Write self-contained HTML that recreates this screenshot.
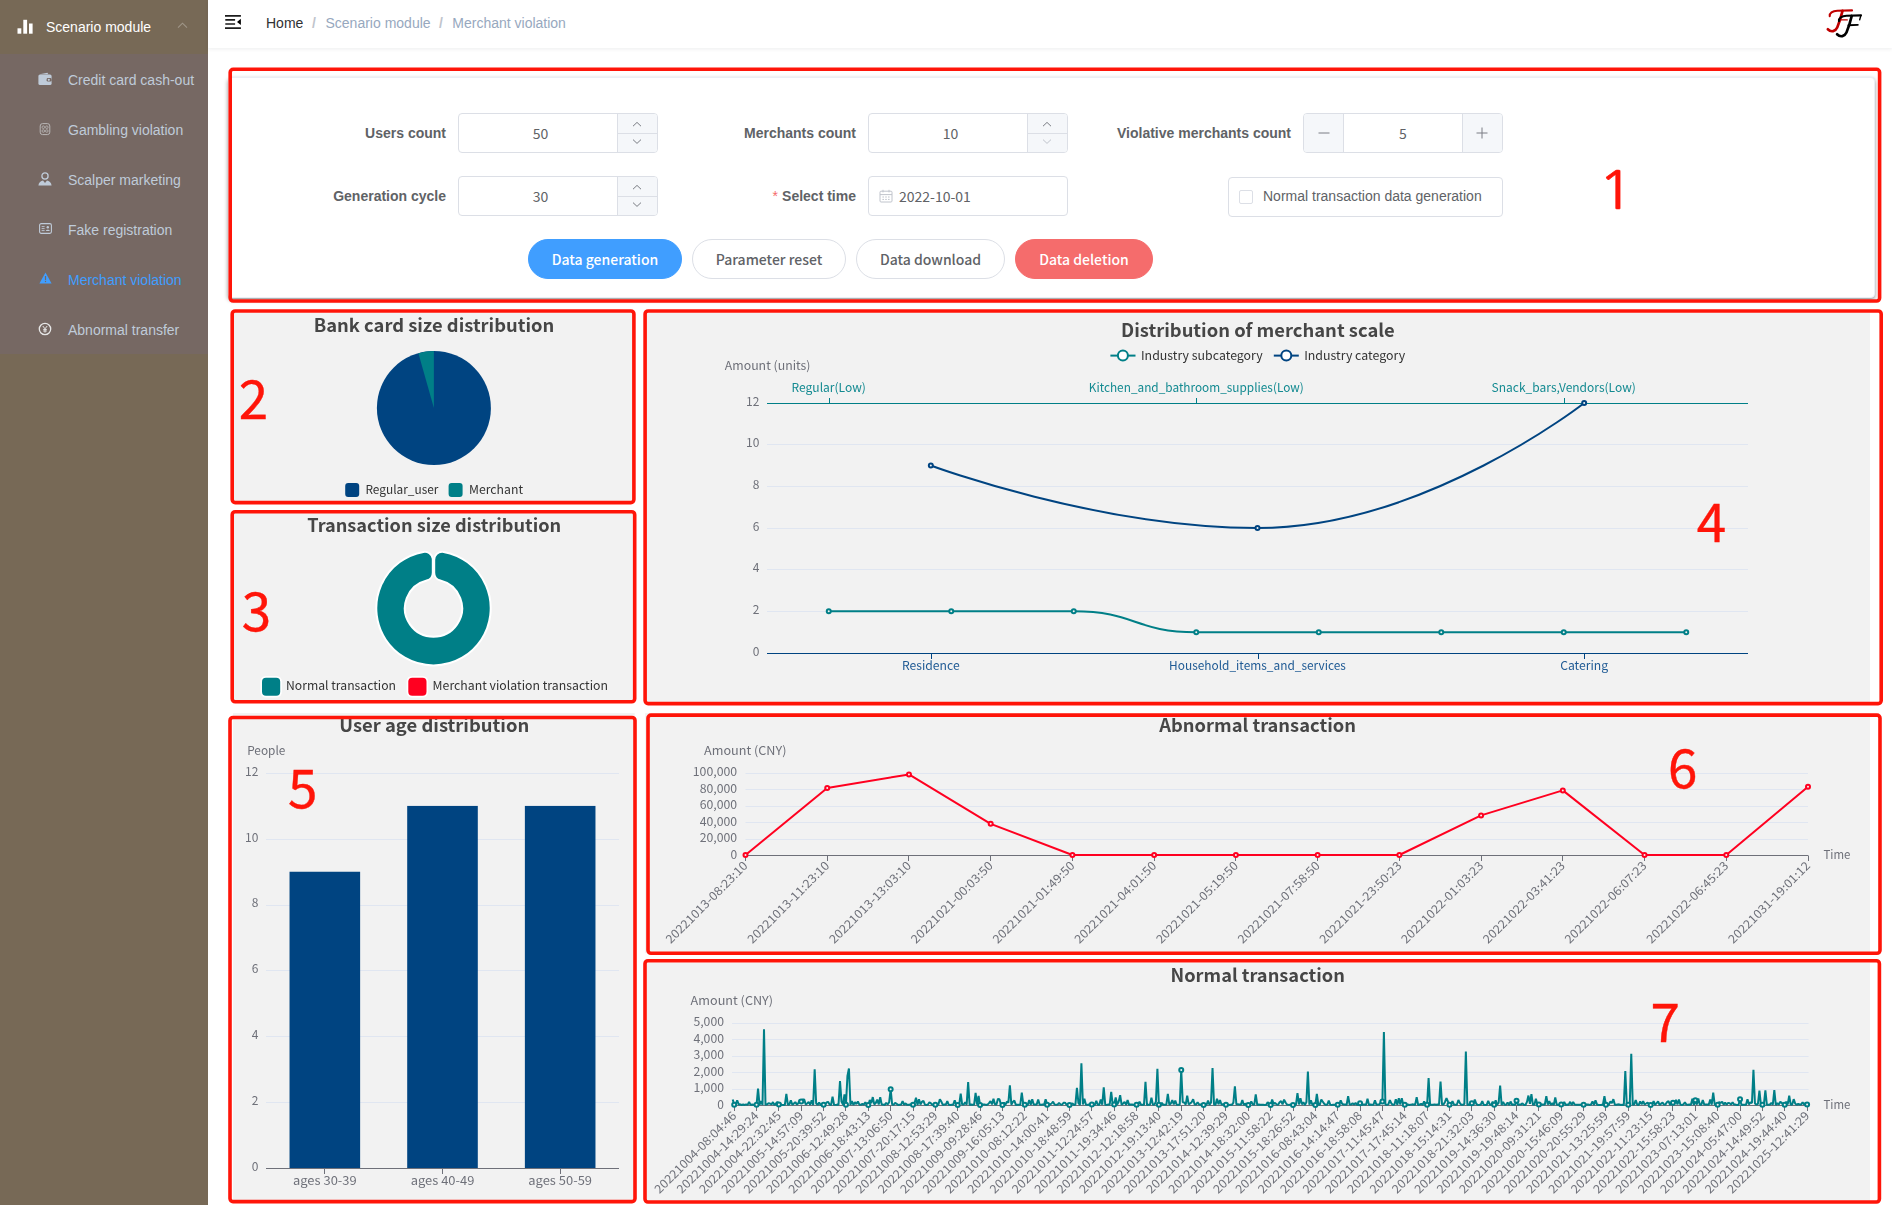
<!DOCTYPE html>
<html lang="en"><head><meta charset="utf-8"><title>Merchant violation</title>
<style>
*{box-sizing:border-box}
html,body{margin:0;padding:0}
body{width:1892px;height:1205px;position:relative;overflow:hidden;background:#fff;
 font-family:"Liberation Sans",Arial,sans-serif;font-size:14px;color:#606266;-webkit-font-smoothing:antialiased}
.abs{position:absolute}
#side{position:absolute;left:0;top:0;width:208px;height:1205px;background:#776956}
#side .top{position:absolute;left:0;top:0;width:208px;height:54px;color:#fff;font-size:14px;line-height:54px}
#side .top span{position:absolute;left:46px;top:0}
#side .sub{position:absolute;left:0;top:54px;width:208px;height:300px;background:#766863}
#side .it{position:absolute;left:0;width:208px;height:50px;line-height:50px;color:#bfcbd9;font-size:14px}
#side .it span{position:absolute;left:68px;top:1px;white-space:nowrap}
#side .it.act{color:#409eff}
#side svg{position:absolute}
#nav{position:absolute;left:208px;top:0;width:1684px;height:48px;background:#fff;box-shadow:0 1px 4px rgba(0,21,41,.08)}
#nav .bc{position:absolute;top:0;height:48px;line-height:47px;font-size:14px;white-space:nowrap}
#card{position:absolute;left:228px;top:77px;width:1646.6px;height:221px;background:#fff;border:1px solid #ebeef5;border-radius:4px;box-shadow:0 2px 4px rgba(0,0,0,.42)}
.lbl{position:absolute;height:40px;line-height:40px;font-size:14px;font-weight:700;color:#606266;text-align:right;white-space:nowrap}
.inp{position:absolute;height:40px;width:200px;border:1px solid #dcdfe6;border-radius:4px;background:#fff;overflow:hidden}
.inp .v{position:absolute;top:0;height:38px;line-height:39px;font-size:14px;color:#606266;text-align:center;font-family:"Noto Sans CJK SC","Liberation Sans",sans-serif}
.ctl{position:absolute;background:#f5f7fa;color:#606266}
.btn{position:absolute;top:239px;height:40px;border-radius:20px;border:1px solid #dcdfe6;background:#fff;color:#606266;
 font-family:"Noto Sans CJK SC","Liberation Sans",sans-serif;font-weight:500;font-size:14px;line-height:39px;text-align:center;white-space:nowrap}
.btn.pri{background:#409eff;border-color:#409eff;color:#fff}
.btn.dan{background:#f56c6c;border-color:#f56c6c;color:#fff}
svg text{white-space:pre}
</style></head>
<body>
<div id="side"><div class="top"><svg style="left:17px;top:19px" width="16" height="16" viewBox="0 0 16 16"><rect x="0.5" y="9.3" width="3.8" height="5.4" fill="#fff"/><rect x="6.3" y="0.8" width="3.8" height="13.9" fill="#fff"/><rect x="12" y="4.5" width="3.6" height="10.2" fill="#fff"/></svg><span>Scenario module</span><svg style="left:177px;top:22px" width="11" height="7" viewBox="0 0 11 7"><path d="M1 5.6 L5.5 1.2 L10 5.6" fill="none" stroke="#9f9688" stroke-width="1.1"/></svg></div><div class="sub"><div class="it" style="top:0px"><svg style="left:38px;top:18px" width="14" height="14" viewBox="0 0 14 14"><path d="M1.6 2.2 L9.5 0.8 L10.3 2.2 Z" fill="#bfcbd9"/><rect x="0.4" y="2.4" width="13.2" height="10.6" rx="1.6" fill="#bfcbd9"/><rect x="8.6" y="6" width="5" height="3.6" rx="1.4" fill="#766863"/><circle cx="10.8" cy="7.8" r="1.1" fill="#bfcbd9"/></svg><span>Credit card cash-out</span></div><div class="it" style="top:50px"><svg style="left:39px;top:18px" width="12" height="14" viewBox="0 0 12 14"><rect x="1.2" y="1.6" width="9.6" height="11" rx="2.4" fill="none" stroke="#b9b6b6" stroke-width="1"/><circle cx="4.3" cy="5.2" r="1.3" fill="none" stroke="#b9b6b6" stroke-width=".8"/><circle cx="7.8" cy="5.2" r="1.3" fill="none" stroke="#b9b6b6" stroke-width=".8"/><circle cx="4.3" cy="9" r="1.3" fill="none" stroke="#b9b6b6" stroke-width=".8"/><circle cx="7.8" cy="9" r="1.3" fill="none" stroke="#b9b6b6" stroke-width=".8"/></svg><span>Gambling violation</span></div><div class="it" style="top:100px"><svg style="left:38px;top:18px" width="14" height="14" viewBox="0 0 14 14"><circle cx="7" cy="4" r="3.1" fill="none" stroke="#bfcbd9" stroke-width="1.3"/><path d="M0.4 13.6 C0.6 10.6 3 9 5 8.6 L7 11 L9 8.6 C11 9 13.4 10.6 13.6 13.6 Z" fill="#bfcbd9"/></svg><span>Scalper marketing</span></div><div class="it" style="top:150px"><svg style="left:39px;top:19px" width="13" height="11" viewBox="0 0 13 11"><rect x="0.6" y="0.6" width="11.8" height="9.8" rx="1.6" fill="none" stroke="#bfcbd9" stroke-width="1.1"/><path d="M2.6 3.6 H5.6 M2.6 5.6 H5.6 M2.6 7.6 H5.6" stroke="#bfcbd9" stroke-width=".9"/><circle cx="8.8" cy="4.3" r="1.2" fill="#bfcbd9"/><path d="M6.8 8 C7 6.4 10.6 6.4 10.8 8 Z" fill="#bfcbd9"/></svg><span>Fake registration</span></div><div class="it act" style="top:200px"><svg style="left:39px;top:18px" width="13" height="12" viewBox="0 0 13 12"><path d="M6.5 0.6 L12.6 11.4 H0.4 Z" fill="#409eff"/><rect x="5.9" y="4" width="1.2" height="4" fill="#766863"/><rect x="5.9" y="8.8" width="1.2" height="1.3" fill="#766863"/></svg><span>Merchant violation</span></div><div class="it" style="top:250px"><svg style="left:38px;top:18px" width="14" height="14" viewBox="0 0 14 14"><circle cx="7" cy="7" r="5.7" fill="none" stroke="#e6e6e6" stroke-width="1.3"/><path d="M4.8 4 L7 6.8 L9.2 4 M7 6.8 V10.6 M5.2 7.4 H8.8 M5.2 9 H8.8" fill="none" stroke="#e6e6e6" stroke-width="1"/></svg><span>Abnormal transfer</span></div></div></div>
<div id="nav"><svg class="abs" style="left:16px;top:13px" width="18" height="18" viewBox="224 13 18 18"><path d="M225 15.85H240.9M225.3 19.9H235.1M225.3 24H235.1M225 28.15H240.9" stroke="#1c1c1c" stroke-width="1.7" fill="none"/><path d="M237 21.9L240.9 18.8V25Z" fill="#000"/></svg><span class="bc" style="left:58px;color:#303133">Home</span><span class="bc" style="left:104px;color:#c0c4cc;font-weight:700">/</span><span class="bc" style="left:117.5px;color:#97a8be">Scenario module</span><span class="bc" style="left:231px;color:#c0c4cc;font-weight:700">/</span><span class="bc" style="left:244.3px;color:#97a8be">Merchant violation</span><svg class="abs" style="left:1615.7px;top:7.9px" width="40.2" height="31.7" viewBox="600 150 760 600" fill="none" stroke-linecap="round" stroke-linejoin="round"><g stroke="#c00000"><path d="M708 305C700 250 760 203 850 202L1130 196" stroke-width="40"/><path d="M950 205C920 330 880 450 850 520C818 592 735 618 672 552" stroke-width="50"/><path d="M885 375H1040" stroke-width="26"/></g><g stroke="#000"><path d="M883 400C875 345 935 298 1025 297L1300 290" stroke-width="40"/><path d="M1298 292L1275 372" stroke-width="26"/><path d="M1125 300C1095 425 1055 545 1025 615C993 687 910 713 847 647" stroke-width="50"/><path d="M1062 478L1240 470" stroke-width="36"/></g></svg></div>
<div id="card"></div>
<div class="lbl" style="left:146px;width:300px;top:113px">Users count</div><div class="inp" style="left:458px;top:113px"><div class="v" style="left:15px;width:133px">50</div><div class="ctl" style="left:158px;top:0;width:40px;height:20px;border-left:1px solid #dcdfe6;border-bottom:1px solid #dcdfe6"></div><div class="ctl" style="left:158px;top:20px;width:40px;height:18px;border-left:1px solid #dcdfe6"></div><svg class="abs" style="left:172px;top:5px" width="12" height="28" viewBox="0 0 12 28"><path d="M2 7.2 L6 3.4 L10 7.2" fill="none" stroke="#7a7d84" stroke-width="1"/><path d="M2 20.6 L6 24.4 L10 20.6" fill="none" stroke="#7a7d84" stroke-width="1"/></svg></div><div class="lbl" style="left:556px;width:300px;top:113px">Merchants count</div><div class="inp" style="left:868px;top:113px"><div class="v" style="left:15px;width:133px">10</div><div class="ctl" style="left:158px;top:0;width:40px;height:20px;border-left:1px solid #dcdfe6;border-bottom:1px solid #dcdfe6"></div><div class="ctl" style="left:158px;top:20px;width:40px;height:18px;border-left:1px solid #dcdfe6"></div><svg class="abs" style="left:172px;top:5px" width="12" height="28" viewBox="0 0 12 28"><path d="M2 7.2 L6 3.4 L10 7.2" fill="none" stroke="#7a7d84" stroke-width="1"/><path d="M2 20.6 L6 24.4 L10 20.6" fill="none" stroke="#c0c4cc" stroke-width="1"/></svg></div><div class="lbl" style="left:991px;width:300px;top:113px">Violative merchants count</div><div class="inp" style="left:1303px;top:113px"><div class="ctl" style="left:0;top:0;width:40px;height:38px;border-right:1px solid #dcdfe6"></div><div class="ctl" style="left:158px;top:0;width:40px;height:38px;border-left:1px solid #dcdfe6"></div><div class="v" style="left:40px;width:118px">5</div><svg class="abs" style="left:13px;top:12px" width="14" height="14" viewBox="0 0 14 14"><path d="M1.5 7 H12.5" stroke="#7a7d84" stroke-width="1"/></svg><svg class="abs" style="left:171px;top:12px" width="14" height="14" viewBox="0 0 14 14"><path d="M1.5 7 H12.5 M7 1.5 V12.5" stroke="#7a7d84" stroke-width="1"/></svg></div><div class="lbl" style="left:146px;width:300px;top:176px">Generation cycle</div><div class="inp" style="left:458px;top:176px"><div class="v" style="left:15px;width:133px">30</div><div class="ctl" style="left:158px;top:0;width:40px;height:20px;border-left:1px solid #dcdfe6;border-bottom:1px solid #dcdfe6"></div><div class="ctl" style="left:158px;top:20px;width:40px;height:18px;border-left:1px solid #dcdfe6"></div><svg class="abs" style="left:172px;top:5px" width="12" height="28" viewBox="0 0 12 28"><path d="M2 7.2 L6 3.4 L10 7.2" fill="none" stroke="#7a7d84" stroke-width="1"/><path d="M2 20.6 L6 24.4 L10 20.6" fill="none" stroke="#7a7d84" stroke-width="1"/></svg></div><div class="lbl" style="left:556px;width:300px;top:176px"><span style="color:#f56c6c;font-weight:400;margin-right:4px;font-size:14px">*</span>Select time</div><div class="inp" style="left:868px;top:176px"><svg class="abs" style="left:10px;top:12px" width="14" height="14" viewBox="0 0 14 14"><rect x="1" y="2.2" width="12" height="10.8" rx="1" fill="none" stroke="#c0c4cc" stroke-width="1"/><path d="M1 5.6 H13 M4 0.8 V3.4 M10 0.8 V3.4 M3.4 8 H5 M6.2 8 H7.8 M9 8 H10.6 M3.4 10.4 H5 M6.2 10.4 H7.8 M9 10.4 H10.6" stroke="#c0c4cc" stroke-width="1" fill="none"/></svg><div class="v" style="left:30px;width:auto;text-align:left">2022-10-01</div></div><div class="abs" style="left:1228px;top:177px;width:275px;height:40px;border:1px solid #dcdfe6;border-radius:4px;background:#fff"><div class="abs" style="left:10px;top:12px;width:14px;height:14px;border:1px solid #dcdfe6;border-radius:2px;background:#fff"></div><div class="abs" style="left:34px;top:0;height:38px;line-height:37px;font-size:14px;color:#606266;white-space:nowrap">Normal transaction data generation</div></div><div class="btn pri" style="left:528px;width:154px">Data generation</div><div class="btn" style="left:692px;width:154px">Parameter reset</div><div class="btn" style="left:856px;width:149px">Data download</div><div class="btn dan" style="left:1015px;width:138px">Data deletion</div>
<svg class="abs" style="left:0;top:0;will-change:transform" width="1892" height="1205" viewBox="0 0 1892 1205" font-family="'Noto Sans CJK SC','Liberation Sans',sans-serif">
<rect x="233.1" y="313.1" width="401.6" height="190" fill="#f2f2f2"/><rect x="233.1" y="513.1" width="401.6" height="190" fill="#f2f2f2"/><rect x="645.2" y="313.1" width="1224.8" height="390" fill="#f2f2f2"/><rect x="233.1" y="713.1" width="401.6" height="490" fill="#f2f2f2"/><rect x="645.2" y="713.1" width="1224.8" height="240" fill="#f2f2f2"/><rect x="645.2" y="963.1" width="1224.8" height="240" fill="#f2f2f2"/>
<text x="434" y="332.2" font-size="18" fill="#464646" text-anchor="middle" font-weight="700" textLength="240.5" lengthAdjust="spacingAndGlyphs">Bank card size distribution</text><circle cx="433.9" cy="408" r="57" fill="#004481"/><path d="M433.9 408L418.38 353.15A57 57 0 0 1 433.9 351Z" fill="#007f87"/><rect x="345.2" y="483" width="14" height="14" rx="3" fill="#004481"/><text x="365.4" y="494.3" font-size="12" fill="#333" textLength="73" lengthAdjust="spacingAndGlyphs">Regular_user</text><rect x="448.6" y="483" width="14" height="14" rx="3" fill="#007f87"/><text x="469" y="494.3" font-size="12" fill="#333" textLength="54" lengthAdjust="spacingAndGlyphs">Merchant</text>
<text x="434.2" y="532.2" font-size="18" fill="#464646" text-anchor="middle" font-weight="700" textLength="254" lengthAdjust="spacingAndGlyphs">Transaction size distribution</text><path d="M442.2 559.78A49.2 49.2 0 1 1 424.8 559.78L424.8 572.65A36.6 36.6 0 1 0 442.2 572.65Z" fill="#fff" stroke="#fff" stroke-width="18" stroke-linejoin="round"/><path d="M442.2 559.78A49.2 49.2 0 1 1 424.8 559.78L424.8 572.65A36.6 36.6 0 1 0 442.2 572.65Z" fill="#007f87" stroke="#007f87" stroke-width="14" stroke-linejoin="round"/><rect x="260.3" y="676" width="21.6" height="21.6" rx="5.5" fill="#fff"/><rect x="262" y="677.8" width="18.2" height="18" rx="4" fill="#007f87"/><text x="286" y="690.3" font-size="12" fill="#333" textLength="110" lengthAdjust="spacingAndGlyphs">Normal transaction</text><rect x="406.6" y="676" width="21.6" height="21.6" rx="5.5" fill="#fff"/><rect x="408.3" y="677.8" width="18.2" height="18" rx="4" fill="#ff0020"/><text x="432.6" y="690.3" font-size="12" fill="#333" textLength="175.4" lengthAdjust="spacingAndGlyphs">Merchant violation transaction</text>
<text x="1257.9" y="337.2" font-size="18" fill="#464646" text-anchor="middle" font-weight="700" textLength="273.7" lengthAdjust="spacingAndGlyphs">Distribution of merchant scale</text><path d="M1110.4 355.6H1135.5" stroke="#007f87" stroke-width="2" fill="none"/><path d="M1273.8 355.6H1298.8" stroke="#004481" stroke-width="2" fill="none"/><circle cx="1122.9" cy="355.6" r="5" fill="#fff" stroke="#007f87" stroke-width="2"/><text x="1141" y="359.5" font-size="12" fill="#333" textLength="121.7" lengthAdjust="spacingAndGlyphs">Industry subcategory</text><circle cx="1286.3" cy="355.6" r="5" fill="#fff" stroke="#004481" stroke-width="2"/><text x="1304.2" y="359.5" font-size="12" fill="#333" textLength="101" lengthAdjust="spacingAndGlyphs">Industry category</text><text x="724.8" y="370.2" font-size="12" fill="#6E7079" textLength="85.7" lengthAdjust="spacingAndGlyphs">Amount (units)</text><text x="759.3" y="655.8" font-size="12" fill="#6E7079" text-anchor="end">0</text><text x="759.3" y="614.13" font-size="12" fill="#6E7079" text-anchor="end">2</text><text x="759.3" y="572.47" font-size="12" fill="#6E7079" text-anchor="end">4</text><text x="759.3" y="530.8" font-size="12" fill="#6E7079" text-anchor="end">6</text><text x="759.3" y="489.13" font-size="12" fill="#6E7079" text-anchor="end">8</text><text x="759.3" y="447.47" font-size="12" fill="#6E7079" text-anchor="end">10</text><text x="759.3" y="405.8" font-size="12" fill="#6E7079" text-anchor="end">12</text><text x="828.75" y="392.1" font-size="12" fill="#138a91" text-anchor="middle" textLength="74.4" lengthAdjust="spacingAndGlyphs">Regular(Low)</text><text x="1196.25" y="392.1" font-size="12" fill="#138a91" text-anchor="middle" textLength="215" lengthAdjust="spacingAndGlyphs">Kitchen_and_bathroom_supplies(Low)</text><text x="1563.75" y="392.1" font-size="12" fill="#138a91" text-anchor="middle" textLength="144.3" lengthAdjust="spacingAndGlyphs">Snack_bars,Vendors(Low)</text><text x="930.83" y="670.3" font-size="12" fill="#1f5a94" text-anchor="middle" textLength="57.8" lengthAdjust="spacingAndGlyphs">Residence</text><text x="1257.5" y="670.3" font-size="12" fill="#1f5a94" text-anchor="middle" textLength="176.8" lengthAdjust="spacingAndGlyphs">Household_items_and_services</text><text x="1584.17" y="670.3" font-size="12" fill="#1f5a94" text-anchor="middle" textLength="48" lengthAdjust="spacingAndGlyphs">Catering</text><path d="M767 611.5H1748M767 569.5H1748M767 528.5H1748M767 486.5H1748M767 444.5H1748" stroke="#e0e6f1" stroke-width="1" fill="none"/><path d="M767 403.5H1748M829.5 398V403.5M1196.5 398V403.5M1564.5 398V403.5" stroke="#007f87" stroke-width="1" fill="none"/><path d="M767 653.5H1748M931.5 653.5V659M1258.5 653.5V659M1584.5 653.5V659" stroke="#004481" stroke-width="1" fill="none"/><path d="M828.75 611.33C828.75 611.33 890 611.33 951.25 611.33C1012.5 611.33 1012.94 611.33 1073.75 611.33C1135.44 611.33 1134.56 632.17 1196.25 632.17C1257.06 632.17 1257.5 632.17 1318.75 632.17C1380 632.17 1380 632.17 1441.25 632.17C1502.5 632.17 1502.5 632.17 1563.75 632.17C1625 632.17 1686.25 632.17 1686.25 632.17" fill="none" stroke="#007f87" stroke-width="2" stroke-linejoin="bevel"/><path d="M930.83 465.5C930.83 465.5 1098.28 528 1257.5 528C1424.94 528 1584.17 403 1584.17 403" fill="none" stroke="#004481" stroke-width="2" stroke-linejoin="bevel"/><circle cx="828.75" cy="611.33" r="2" fill="#f2f2f2" stroke="#007f87" stroke-width="2"/><circle cx="951.25" cy="611.33" r="2" fill="#f2f2f2" stroke="#007f87" stroke-width="2"/><circle cx="1073.75" cy="611.33" r="2" fill="#f2f2f2" stroke="#007f87" stroke-width="2"/><circle cx="1196.25" cy="632.17" r="2" fill="#f2f2f2" stroke="#007f87" stroke-width="2"/><circle cx="1318.75" cy="632.17" r="2" fill="#f2f2f2" stroke="#007f87" stroke-width="2"/><circle cx="1441.25" cy="632.17" r="2" fill="#f2f2f2" stroke="#007f87" stroke-width="2"/><circle cx="1563.75" cy="632.17" r="2" fill="#f2f2f2" stroke="#007f87" stroke-width="2"/><circle cx="1686.25" cy="632.17" r="2" fill="#f2f2f2" stroke="#007f87" stroke-width="2"/><circle cx="930.83" cy="465.5" r="2" fill="#f2f2f2" stroke="#004481" stroke-width="2"/><circle cx="1257.5" cy="528" r="2" fill="#f2f2f2" stroke="#004481" stroke-width="2"/><circle cx="1584.17" cy="403" r="2" fill="#f2f2f2" stroke="#004481" stroke-width="2"/>
<text x="434.3" y="732" font-size="18" fill="#464646" text-anchor="middle" font-weight="700" textLength="190" lengthAdjust="spacingAndGlyphs">User age distribution</text><text x="247.2" y="755.3" font-size="12" fill="#6E7079" textLength="38.2" lengthAdjust="spacingAndGlyphs">People</text><text x="258.3" y="1170.8" font-size="12" fill="#6E7079" text-anchor="end">0</text><text x="258.3" y="1104.97" font-size="12" fill="#6E7079" text-anchor="end">2</text><text x="258.3" y="1039.13" font-size="12" fill="#6E7079" text-anchor="end">4</text><text x="258.3" y="973.3" font-size="12" fill="#6E7079" text-anchor="end">6</text><text x="258.3" y="907.47" font-size="12" fill="#6E7079" text-anchor="end">8</text><text x="258.3" y="841.63" font-size="12" fill="#6E7079" text-anchor="end">10</text><text x="258.3" y="775.8" font-size="12" fill="#6E7079" text-anchor="end">12</text><path d="M266 1102.5H619M266 1036.5H619M266 970.5H619M266 905.5H619M266 839.5H619M266 773.5H619" stroke="#e0e6f1" stroke-width="1" fill="none"/><rect x="289.53" y="871.75" width="70.6" height="296.25" fill="#004481"/><text x="324.83" y="1185" font-size="12" fill="#6E7079" text-anchor="middle" textLength="63.7" lengthAdjust="spacingAndGlyphs">ages 30-39</text><rect x="407.2" y="805.92" width="70.6" height="362.08" fill="#004481"/><text x="442.5" y="1185" font-size="12" fill="#6E7079" text-anchor="middle" textLength="63.7" lengthAdjust="spacingAndGlyphs">ages 40-49</text><rect x="524.87" y="805.92" width="70.6" height="362.08" fill="#004481"/><text x="560.17" y="1185" font-size="12" fill="#6E7079" text-anchor="middle" textLength="63.7" lengthAdjust="spacingAndGlyphs">ages 50-59</text><path d="M324.5 1168.5V1174M442.5 1168.5V1174M560.5 1168.5V1174M266 1168.5H619" stroke="#6E7079" stroke-width="1" fill="none"/>
<text x="1257.6" y="732.2" font-size="18" fill="#464646" text-anchor="middle" font-weight="700" textLength="196.7" lengthAdjust="spacingAndGlyphs">Abnormal transaction</text><text x="704" y="755.3" font-size="12" fill="#6E7079" textLength="82.5" lengthAdjust="spacingAndGlyphs">Amount (CNY)</text><text x="737.2" y="859.1" font-size="12" fill="#6E7079" text-anchor="end">0</text><text x="737.2" y="842" font-size="12" fill="#6E7079" text-anchor="end" textLength="37.5" lengthAdjust="spacingAndGlyphs">20,000</text><text x="737.2" y="825.6" font-size="12" fill="#6E7079" text-anchor="end" textLength="37.5" lengthAdjust="spacingAndGlyphs">40,000</text><text x="737.2" y="809.2" font-size="12" fill="#6E7079" text-anchor="end" textLength="37.5" lengthAdjust="spacingAndGlyphs">60,000</text><text x="737.2" y="792.8" font-size="12" fill="#6E7079" text-anchor="end" textLength="37.5" lengthAdjust="spacingAndGlyphs">80,000</text><text x="737.2" y="776.4" font-size="12" fill="#6E7079" text-anchor="end" textLength="44.5" lengthAdjust="spacingAndGlyphs">100,000</text><text x="745.5" y="867.8" font-size="12" fill="#6E7079" text-anchor="end" textLength="110.0" lengthAdjust="spacingAndGlyphs" transform="rotate(-45 745.5 863.5)">20221013-08:23:10</text><text x="827.23" y="867.8" font-size="12" fill="#6E7079" text-anchor="end" textLength="110.0" lengthAdjust="spacingAndGlyphs" transform="rotate(-45 827.23 863.5)">20221013-11:23:10</text><text x="908.96" y="867.8" font-size="12" fill="#6E7079" text-anchor="end" textLength="110.0" lengthAdjust="spacingAndGlyphs" transform="rotate(-45 908.96 863.5)">20221013-13:03:10</text><text x="990.69" y="867.8" font-size="12" fill="#6E7079" text-anchor="end" textLength="110.0" lengthAdjust="spacingAndGlyphs" transform="rotate(-45 990.69 863.5)">20221021-00:03:50</text><text x="1072.42" y="867.8" font-size="12" fill="#6E7079" text-anchor="end" textLength="110.0" lengthAdjust="spacingAndGlyphs" transform="rotate(-45 1072.42 863.5)">20221021-01:49:50</text><text x="1154.15" y="867.8" font-size="12" fill="#6E7079" text-anchor="end" textLength="110.0" lengthAdjust="spacingAndGlyphs" transform="rotate(-45 1154.15 863.5)">20221021-04:01:50</text><text x="1235.88" y="867.8" font-size="12" fill="#6E7079" text-anchor="end" textLength="110.0" lengthAdjust="spacingAndGlyphs" transform="rotate(-45 1235.88 863.5)">20221021-05:19:50</text><text x="1317.62" y="867.8" font-size="12" fill="#6E7079" text-anchor="end" textLength="110.0" lengthAdjust="spacingAndGlyphs" transform="rotate(-45 1317.62 863.5)">20221021-07:58:50</text><text x="1399.35" y="867.8" font-size="12" fill="#6E7079" text-anchor="end" textLength="110.0" lengthAdjust="spacingAndGlyphs" transform="rotate(-45 1399.35 863.5)">20221021-23:50:23</text><text x="1481.08" y="867.8" font-size="12" fill="#6E7079" text-anchor="end" textLength="110.0" lengthAdjust="spacingAndGlyphs" transform="rotate(-45 1481.08 863.5)">20221022-01:03:23</text><text x="1562.81" y="867.8" font-size="12" fill="#6E7079" text-anchor="end" textLength="110.0" lengthAdjust="spacingAndGlyphs" transform="rotate(-45 1562.81 863.5)">20221022-03:41:23</text><text x="1644.54" y="867.8" font-size="12" fill="#6E7079" text-anchor="end" textLength="110.0" lengthAdjust="spacingAndGlyphs" transform="rotate(-45 1644.54 863.5)">20221022-06:07:23</text><text x="1726.27" y="867.8" font-size="12" fill="#6E7079" text-anchor="end" textLength="110.0" lengthAdjust="spacingAndGlyphs" transform="rotate(-45 1726.27 863.5)">20221022-06:45:23</text><text x="1808" y="867.8" font-size="12" fill="#6E7079" text-anchor="end" textLength="110.0" lengthAdjust="spacingAndGlyphs" transform="rotate(-45 1808 863.5)">20221031-19:01:12</text><path d="M745.5 839.5H1808M745.5 822.5H1808M745.5 806.5H1808M745.5 789.5H1808M745.5 773.5H1808" stroke="#e0e6f1" stroke-width="1" fill="none"/><path d="M745.5 855.5H1808M745.5 855.5V861M827.5 855.5V861M908.5 855.5V861M990.5 855.5V861M1072.5 855.5V861M1154.5 855.5V861M1235.5 855.5V861M1317.5 855.5V861M1399.5 855.5V861M1481.5 855.5V861M1562.5 855.5V861M1644.5 855.5V861M1726.5 855.5V861M1808.5 855.5V861" stroke="#6E7079" stroke-width="1" fill="none"/><path d="M745.5 855L827.23 788.09L908.96 774.39L990.69 823.84L1072.42 855L1154.15 855L1235.88 855L1317.62 855L1399.35 855L1481.08 815.39L1562.81 790.38L1644.54 855L1726.27 855L1808 786.78" fill="none" stroke="#ff0020" stroke-width="2" stroke-linejoin="bevel"/><circle cx="745.5" cy="855" r="2" fill="#f2f2f2" stroke="#ff0020" stroke-width="2"/><circle cx="827.23" cy="788.09" r="2" fill="#f2f2f2" stroke="#ff0020" stroke-width="2"/><circle cx="908.96" cy="774.39" r="2" fill="#f2f2f2" stroke="#ff0020" stroke-width="2"/><circle cx="990.69" cy="823.84" r="2" fill="#f2f2f2" stroke="#ff0020" stroke-width="2"/><circle cx="1072.42" cy="855" r="2" fill="#f2f2f2" stroke="#ff0020" stroke-width="2"/><circle cx="1154.15" cy="855" r="2" fill="#f2f2f2" stroke="#ff0020" stroke-width="2"/><circle cx="1235.88" cy="855" r="2" fill="#f2f2f2" stroke="#ff0020" stroke-width="2"/><circle cx="1317.62" cy="855" r="2" fill="#f2f2f2" stroke="#ff0020" stroke-width="2"/><circle cx="1399.35" cy="855" r="2" fill="#f2f2f2" stroke="#ff0020" stroke-width="2"/><circle cx="1481.08" cy="815.39" r="2" fill="#f2f2f2" stroke="#ff0020" stroke-width="2"/><circle cx="1562.81" cy="790.38" r="2" fill="#f2f2f2" stroke="#ff0020" stroke-width="2"/><circle cx="1644.54" cy="855" r="2" fill="#f2f2f2" stroke="#ff0020" stroke-width="2"/><circle cx="1726.27" cy="855" r="2" fill="#f2f2f2" stroke="#ff0020" stroke-width="2"/><circle cx="1808" cy="786.78" r="2" fill="#f2f2f2" stroke="#ff0020" stroke-width="2"/><text x="1823.4" y="858.9" font-size="12" fill="#6E7079" textLength="27" lengthAdjust="spacingAndGlyphs">Time</text>
<text x="1257.7" y="982.1" font-size="18" fill="#464646" text-anchor="middle" font-weight="700" textLength="174.3" lengthAdjust="spacingAndGlyphs">Normal transaction</text><text x="690.6" y="1005.3" font-size="12" fill="#6E7079" textLength="82.5" lengthAdjust="spacingAndGlyphs">Amount (CNY)</text><text x="724" y="1109.1" font-size="12" fill="#6E7079" text-anchor="end">0</text><text x="724" y="1092" font-size="12" fill="#6E7079" text-anchor="end" textLength="30.6" lengthAdjust="spacingAndGlyphs">1,000</text><text x="724" y="1075.6" font-size="12" fill="#6E7079" text-anchor="end" textLength="30.6" lengthAdjust="spacingAndGlyphs">2,000</text><text x="724" y="1059.2" font-size="12" fill="#6E7079" text-anchor="end" textLength="30.6" lengthAdjust="spacingAndGlyphs">3,000</text><text x="724" y="1042.8" font-size="12" fill="#6E7079" text-anchor="end" textLength="30.6" lengthAdjust="spacingAndGlyphs">4,000</text><text x="724" y="1026.4" font-size="12" fill="#6E7079" text-anchor="end" textLength="30.6" lengthAdjust="spacingAndGlyphs">5,000</text><text x="734.2" y="1117.8" font-size="12" fill="#6E7079" text-anchor="end" textLength="110.0" lengthAdjust="spacingAndGlyphs" transform="rotate(-45 734.2 1113.5)">20221004-08:04:46</text><text x="756.55" y="1117.8" font-size="12" fill="#6E7079" text-anchor="end" textLength="110.0" lengthAdjust="spacingAndGlyphs" transform="rotate(-45 756.55 1113.5)">20221004-14:29:24</text><text x="778.9" y="1117.8" font-size="12" fill="#6E7079" text-anchor="end" textLength="110.0" lengthAdjust="spacingAndGlyphs" transform="rotate(-45 778.9 1113.5)">20221004-22:32:45</text><text x="801.26" y="1117.8" font-size="12" fill="#6E7079" text-anchor="end" textLength="110.0" lengthAdjust="spacingAndGlyphs" transform="rotate(-45 801.26 1113.5)">20221005-14:57:09</text><text x="823.61" y="1117.8" font-size="12" fill="#6E7079" text-anchor="end" textLength="110.0" lengthAdjust="spacingAndGlyphs" transform="rotate(-45 823.61 1113.5)">20221005-20:39:52</text><text x="845.96" y="1117.8" font-size="12" fill="#6E7079" text-anchor="end" textLength="110.0" lengthAdjust="spacingAndGlyphs" transform="rotate(-45 845.96 1113.5)">20221006-12:49:28</text><text x="868.31" y="1117.8" font-size="12" fill="#6E7079" text-anchor="end" textLength="110.0" lengthAdjust="spacingAndGlyphs" transform="rotate(-45 868.31 1113.5)">20221006-18:43:13</text><text x="890.66" y="1117.8" font-size="12" fill="#6E7079" text-anchor="end" textLength="110.0" lengthAdjust="spacingAndGlyphs" transform="rotate(-45 890.66 1113.5)">20221007-13:06:50</text><text x="913.02" y="1117.8" font-size="12" fill="#6E7079" text-anchor="end" textLength="110.0" lengthAdjust="spacingAndGlyphs" transform="rotate(-45 913.02 1113.5)">20221007-20:17:15</text><text x="935.37" y="1117.8" font-size="12" fill="#6E7079" text-anchor="end" textLength="110.0" lengthAdjust="spacingAndGlyphs" transform="rotate(-45 935.37 1113.5)">20221008-12:53:29</text><text x="957.72" y="1117.8" font-size="12" fill="#6E7079" text-anchor="end" textLength="110.0" lengthAdjust="spacingAndGlyphs" transform="rotate(-45 957.72 1113.5)">20221008-17:39:40</text><text x="980.07" y="1117.8" font-size="12" fill="#6E7079" text-anchor="end" textLength="110.0" lengthAdjust="spacingAndGlyphs" transform="rotate(-45 980.07 1113.5)">20221009-09:28:46</text><text x="1002.42" y="1117.8" font-size="12" fill="#6E7079" text-anchor="end" textLength="110.0" lengthAdjust="spacingAndGlyphs" transform="rotate(-45 1002.42 1113.5)">20221009-16:05:13</text><text x="1024.78" y="1117.8" font-size="12" fill="#6E7079" text-anchor="end" textLength="110.0" lengthAdjust="spacingAndGlyphs" transform="rotate(-45 1024.78 1113.5)">20221010-08:12:22</text><text x="1047.13" y="1117.8" font-size="12" fill="#6E7079" text-anchor="end" textLength="110.0" lengthAdjust="spacingAndGlyphs" transform="rotate(-45 1047.13 1113.5)">20221010-14:00:41</text><text x="1069.48" y="1117.8" font-size="12" fill="#6E7079" text-anchor="end" textLength="110.0" lengthAdjust="spacingAndGlyphs" transform="rotate(-45 1069.48 1113.5)">20221010-18:48:59</text><text x="1091.83" y="1117.8" font-size="12" fill="#6E7079" text-anchor="end" textLength="110.0" lengthAdjust="spacingAndGlyphs" transform="rotate(-45 1091.83 1113.5)">20221011-12:24:57</text><text x="1114.19" y="1117.8" font-size="12" fill="#6E7079" text-anchor="end" textLength="110.0" lengthAdjust="spacingAndGlyphs" transform="rotate(-45 1114.19 1113.5)">20221011-19:34:46</text><text x="1136.54" y="1117.8" font-size="12" fill="#6E7079" text-anchor="end" textLength="110.0" lengthAdjust="spacingAndGlyphs" transform="rotate(-45 1136.54 1113.5)">20221012-12:18:58</text><text x="1158.89" y="1117.8" font-size="12" fill="#6E7079" text-anchor="end" textLength="110.0" lengthAdjust="spacingAndGlyphs" transform="rotate(-45 1158.89 1113.5)">20221012-19:13:40</text><text x="1181.24" y="1117.8" font-size="12" fill="#6E7079" text-anchor="end" textLength="110.0" lengthAdjust="spacingAndGlyphs" transform="rotate(-45 1181.24 1113.5)">20221013-12:42:19</text><text x="1203.59" y="1117.8" font-size="12" fill="#6E7079" text-anchor="end" textLength="110.0" lengthAdjust="spacingAndGlyphs" transform="rotate(-45 1203.59 1113.5)">20221013-17:51:20</text><text x="1225.95" y="1117.8" font-size="12" fill="#6E7079" text-anchor="end" textLength="110.0" lengthAdjust="spacingAndGlyphs" transform="rotate(-45 1225.95 1113.5)">20221014-12:39:29</text><text x="1248.3" y="1117.8" font-size="12" fill="#6E7079" text-anchor="end" textLength="110.0" lengthAdjust="spacingAndGlyphs" transform="rotate(-45 1248.3 1113.5)">20221014-18:32:00</text><text x="1270.65" y="1117.8" font-size="12" fill="#6E7079" text-anchor="end" textLength="110.0" lengthAdjust="spacingAndGlyphs" transform="rotate(-45 1270.65 1113.5)">20221015-11:58:22</text><text x="1293" y="1117.8" font-size="12" fill="#6E7079" text-anchor="end" textLength="110.0" lengthAdjust="spacingAndGlyphs" transform="rotate(-45 1293 1113.5)">20221015-18:26:52</text><text x="1315.35" y="1117.8" font-size="12" fill="#6E7079" text-anchor="end" textLength="110.0" lengthAdjust="spacingAndGlyphs" transform="rotate(-45 1315.35 1113.5)">20221016-08:43:04</text><text x="1337.71" y="1117.8" font-size="12" fill="#6E7079" text-anchor="end" textLength="110.0" lengthAdjust="spacingAndGlyphs" transform="rotate(-45 1337.71 1113.5)">20221016-14:14:47</text><text x="1360.06" y="1117.8" font-size="12" fill="#6E7079" text-anchor="end" textLength="110.0" lengthAdjust="spacingAndGlyphs" transform="rotate(-45 1360.06 1113.5)">20221016-18:58:08</text><text x="1382.41" y="1117.8" font-size="12" fill="#6E7079" text-anchor="end" textLength="110.0" lengthAdjust="spacingAndGlyphs" transform="rotate(-45 1382.41 1113.5)">20221017-11:45:47</text><text x="1404.76" y="1117.8" font-size="12" fill="#6E7079" text-anchor="end" textLength="110.0" lengthAdjust="spacingAndGlyphs" transform="rotate(-45 1404.76 1113.5)">20221017-17:45:14</text><text x="1427.11" y="1117.8" font-size="12" fill="#6E7079" text-anchor="end" textLength="110.0" lengthAdjust="spacingAndGlyphs" transform="rotate(-45 1427.11 1113.5)">20221018-11:18:07</text><text x="1449.47" y="1117.8" font-size="12" fill="#6E7079" text-anchor="end" textLength="110.0" lengthAdjust="spacingAndGlyphs" transform="rotate(-45 1449.47 1113.5)">20221018-15:14:31</text><text x="1471.82" y="1117.8" font-size="12" fill="#6E7079" text-anchor="end" textLength="110.0" lengthAdjust="spacingAndGlyphs" transform="rotate(-45 1471.82 1113.5)">20221018-21:32:03</text><text x="1494.17" y="1117.8" font-size="12" fill="#6E7079" text-anchor="end" textLength="110.0" lengthAdjust="spacingAndGlyphs" transform="rotate(-45 1494.17 1113.5)">20221019-14:36:30</text><text x="1516.52" y="1117.8" font-size="12" fill="#6E7079" text-anchor="end" textLength="110.0" lengthAdjust="spacingAndGlyphs" transform="rotate(-45 1516.52 1113.5)">20221019-19:48:14</text><text x="1538.88" y="1117.8" font-size="12" fill="#6E7079" text-anchor="end" textLength="110.0" lengthAdjust="spacingAndGlyphs" transform="rotate(-45 1538.88 1113.5)">20221020-09:31:21</text><text x="1561.23" y="1117.8" font-size="12" fill="#6E7079" text-anchor="end" textLength="110.0" lengthAdjust="spacingAndGlyphs" transform="rotate(-45 1561.23 1113.5)">20221020-15:46:09</text><text x="1583.58" y="1117.8" font-size="12" fill="#6E7079" text-anchor="end" textLength="110.0" lengthAdjust="spacingAndGlyphs" transform="rotate(-45 1583.58 1113.5)">20221020-20:55:29</text><text x="1605.93" y="1117.8" font-size="12" fill="#6E7079" text-anchor="end" textLength="110.0" lengthAdjust="spacingAndGlyphs" transform="rotate(-45 1605.93 1113.5)">20221021-13:25:59</text><text x="1628.28" y="1117.8" font-size="12" fill="#6E7079" text-anchor="end" textLength="110.0" lengthAdjust="spacingAndGlyphs" transform="rotate(-45 1628.28 1113.5)">20221021-19:57:59</text><text x="1650.64" y="1117.8" font-size="12" fill="#6E7079" text-anchor="end" textLength="110.0" lengthAdjust="spacingAndGlyphs" transform="rotate(-45 1650.64 1113.5)">20221022-11:23:15</text><text x="1672.99" y="1117.8" font-size="12" fill="#6E7079" text-anchor="end" textLength="110.0" lengthAdjust="spacingAndGlyphs" transform="rotate(-45 1672.99 1113.5)">20221022-15:58:23</text><text x="1695.34" y="1117.8" font-size="12" fill="#6E7079" text-anchor="end" textLength="110.0" lengthAdjust="spacingAndGlyphs" transform="rotate(-45 1695.34 1113.5)">20221023-07:13:01</text><text x="1717.69" y="1117.8" font-size="12" fill="#6E7079" text-anchor="end" textLength="110.0" lengthAdjust="spacingAndGlyphs" transform="rotate(-45 1717.69 1113.5)">20221023-15:08:40</text><text x="1740.04" y="1117.8" font-size="12" fill="#6E7079" text-anchor="end" textLength="110.0" lengthAdjust="spacingAndGlyphs" transform="rotate(-45 1740.04 1113.5)">20221024-05:47:00</text><text x="1762.4" y="1117.8" font-size="12" fill="#6E7079" text-anchor="end" textLength="110.0" lengthAdjust="spacingAndGlyphs" transform="rotate(-45 1762.4 1113.5)">20221024-14:49:52</text><text x="1784.75" y="1117.8" font-size="12" fill="#6E7079" text-anchor="end" textLength="110.0" lengthAdjust="spacingAndGlyphs" transform="rotate(-45 1784.75 1113.5)">20221024-19:44:40</text><text x="1807.1" y="1117.8" font-size="12" fill="#6E7079" text-anchor="end" textLength="110.0" lengthAdjust="spacingAndGlyphs" transform="rotate(-45 1807.1 1113.5)">20221025-12:41:29</text><path d="M732 1089.5H1808.6M732 1072.5H1808.6M732 1056.5H1808.6M732 1039.5H1808.6M732 1023.5H1808.6" stroke="#e0e6f1" stroke-width="1" fill="none"/><path d="M732 1105.5H1808.6M734.5 1105.5V1111M756.5 1105.5V1111M778.5 1105.5V1111M801.5 1105.5V1111M823.5 1105.5V1111M845.5 1105.5V1111M868.5 1105.5V1111M890.5 1105.5V1111M913.5 1105.5V1111M935.5 1105.5V1111M957.5 1105.5V1111M980.5 1105.5V1111M1002.5 1105.5V1111M1024.5 1105.5V1111M1047.5 1105.5V1111M1069.5 1105.5V1111M1091.5 1105.5V1111M1114.5 1105.5V1111M1136.5 1105.5V1111M1158.5 1105.5V1111M1181.5 1105.5V1111M1203.5 1105.5V1111M1225.5 1105.5V1111M1248.5 1105.5V1111M1270.5 1105.5V1111M1293.5 1105.5V1111M1315.5 1105.5V1111M1337.5 1105.5V1111M1360.5 1105.5V1111M1382.5 1105.5V1111M1404.5 1105.5V1111M1427.5 1105.5V1111M1449.5 1105.5V1111M1471.5 1105.5V1111M1494.5 1105.5V1111M1516.5 1105.5V1111M1538.5 1105.5V1111M1561.5 1105.5V1111M1583.5 1105.5V1111M1605.5 1105.5V1111M1628.5 1105.5V1111M1650.5 1105.5V1111M1672.5 1105.5V1111M1695.5 1105.5V1111M1717.5 1105.5V1111M1740.5 1105.5V1111M1762.5 1105.5V1111M1784.5 1105.5V1111M1807.5 1105.5V1111" stroke="#6E7079" stroke-width="1" fill="none"/><path d="M732.71 1099.6L734.2 1104.81L735.69 1104.01L737.18 1100.34L738.67 1104.4L740.16 1104.36L741.65 1104.95L743.14 1104.49L744.63 1104.94L746.12 1104.37L747.61 1104.92L749.1 1101.82L750.59 1104.93L752.08 1104.48L753.57 1104.63L755.06 1104.87L756.55 1104.77L758.04 1088.5L759.53 1104.91L761.02 1101.08L762.51 1104.92L764 1029.3L765.49 1104.86L766.98 1104.36L768.47 1103.27L769.96 1103.5L771.45 1104.44L772.94 1102.11L774.43 1104.93L775.92 1103.49L777.41 1101.82L778.9 1104.62L780.39 1104.49L781.88 1104.81L783.37 1104.94L784.86 1104.84L786.35 1093.97L787.85 1104.76L789.34 1104.37L790.83 1100.34L792.32 1104.62L793.81 1103.57L795.3 1102.11L796.79 1104.4L798.28 1103.4L799.77 1099.6L801.26 1101.56L802.75 1099.6L804.24 1099.6L805.73 1104.51L807.22 1103.53L808.71 1101.85L810.2 1104.72L811.69 1100.34L813.18 1104.97L814.67 1069.26L816.16 1103.43L817.65 1104.83L819.14 1102.55L820.63 1104.88L822.12 1104.95L823.61 1104.79L825.1 1104.63L826.59 1102.5L828.08 1101.82L829.57 1104.4L831.06 1104.99L832.55 1096.64L834.04 1104.71L835.53 1104.88L837.02 1104.62L838.51 1104.76L840 1081.1L841.49 1101.6L842.98 1104.55L844.47 1094.42L845.96 1104.76L847.45 1075.92L848.94 1068.52L850.43 1104.91L851.92 1101.08L853.41 1104.99L854.9 1102.29L856.39 1103.96L857.88 1101.52L859.37 1104.68L860.86 1104.79L862.35 1103.83L863.84 1104.52L865.33 1102.2L866.82 1104.48L868.31 1104.92L869.8 1100.04L871.29 1103.15L872.78 1097.08L874.27 1104.41L875.76 1102.99L877.25 1099.6L878.74 1104.43L880.23 1097.08L881.72 1104.59L883.21 1104.62L884.7 1104.95L886.19 1102.85L887.68 1104.35L889.17 1102.22L890.66 1089.24L892.15 1104.52L893.64 1104.71L895.13 1102.85L896.63 1103.81L898.12 1104.98L899.61 1104.68L901.1 1104.54L902.59 1101.08L904.08 1104.6L905.57 1103.39L907.06 1104.8L908.55 1104.87L910.04 1104.41L911.53 1104.71L913.02 1104.74L914.51 1103.21L916 1097.67L917.49 1104.87L918.98 1099.3L920.47 1104.47L921.96 1101.85L923.45 1100.78L924.94 1104.62L926.43 1104.91L927.92 1104.45L929.41 1102.27L930.9 1103.34L932.39 1104.7L933.88 1104.86L935.37 1104.67L936.86 1104.59L938.35 1104.79L939.84 1099.15L941.33 1101.6L942.82 1104.95L944.31 1104.43L945.8 1104.54L947.29 1101.08L948.78 1104.8L950.27 1104.99L951.76 1104.7L953.25 1104.46L954.74 1100.34L956.23 1104.91L957.72 1104.96L959.21 1104.59L960.7 1093.68L962.19 1104.59L963.68 1104.47L965.17 1102.33L966.66 1104.69L968.15 1082.13L969.64 1104.99L971.13 1104.53L972.62 1104.82L974.11 1104.54L975.6 1092.94L977.09 1104.6L978.58 1095.9L980.07 1104.88L981.56 1104.74L983.05 1104.41L984.54 1104.39L986.03 1104.91L987.52 1104.59L989.01 1103.09L990.5 1101.08L991.99 1104.42L993.48 1098.86L994.97 1104.38L996.46 1104.57L997.95 1098.86L999.44 1099.15L1000.93 1104.53L1002.43 1104.96L1003.92 1102.44L1005.41 1104.86L1006.9 1101.6L1008.39 1102.7L1009.88 1085.24L1011.37 1104.79L1012.86 1101.91L1014.35 1100.63L1015.84 1104.95L1017.33 1104.64L1018.82 1104.68L1020.31 1104.47L1021.8 1092.64L1023.29 1104.48L1024.78 1104.67L1026.27 1104.78L1027.76 1104.91L1029.25 1100.04L1030.74 1104.66L1032.23 1099.15L1033.72 1104.45L1035.21 1104.38L1036.7 1104.38L1038.19 1099.6L1039.68 1104.85L1041.17 1104.81L1042.66 1104.58L1044.15 1104.45L1045.64 1099.15L1047.13 1104.72L1048.62 1104.8L1050.11 1104.45L1051.6 1103.5L1053.09 1101.63L1054.58 1104.62L1056.07 1104.65L1057.56 1104.6L1059.05 1102.85L1060.54 1104.36L1062.03 1104.74L1063.52 1102.85L1065.01 1102.63L1066.5 1104.55L1067.99 1104.65L1069.48 1104.98L1070.97 1104.37L1072.46 1103.35L1073.95 1104.92L1075.44 1104.46L1076.93 1087.76L1078.42 1102.84L1079.91 1104.87L1081.4 1063.34L1082.89 1104.39L1084.38 1098.86L1085.87 1104.49L1087.36 1104.87L1088.85 1104.55L1090.34 1104.77L1091.83 1104.6L1093.32 1104.93L1094.81 1104.92L1096.3 1100.78L1097.79 1104.84L1099.28 1104.65L1100.77 1099.6L1102.26 1104.75L1103.75 1087.31L1105.24 1104.65L1106.73 1104.87L1108.22 1104.58L1109.72 1104.44L1111.21 1091.75L1112.7 1104.44L1114.19 1104.6L1115.68 1097.38L1117.17 1104.51L1118.66 1101.8L1120.15 1095.16L1121.64 1104.79L1123.13 1103.48L1124.62 1101.83L1126.11 1104.84L1127.6 1100.04L1129.09 1104.83L1130.58 1104.45L1132.07 1104.48L1133.56 1104.74L1135.05 1104.99L1136.54 1104.73L1138.03 1104.55L1139.52 1101.63L1141.01 1104.67L1142.5 1104.67L1143.99 1104.88L1145.48 1081.84L1146.97 1104.93L1148.46 1104.64L1149.95 1104.63L1151.44 1097.67L1152.93 1104.88L1154.42 1104.45L1155.91 1101.74L1157.4 1068.82L1158.89 1104.75L1160.38 1104.96L1161.87 1102.88L1163.36 1104.79L1164.85 1104.66L1166.34 1104.61L1167.83 1093.97L1169.32 1104.54L1170.81 1103.57L1172.3 1100.04L1173.79 1104.51L1175.28 1100.63L1176.77 1104.87L1178.26 1104.66L1179.75 1104.41L1181.24 1070L1182.73 1102.28L1184.22 1102.47L1185.71 1104.61L1187.2 1095.6L1188.69 1104.36L1190.18 1103.38L1191.67 1102.18L1193.16 1099.15L1194.65 1104.47L1196.14 1104.41L1197.63 1102.31L1199.12 1104.5L1200.61 1104.53L1202.1 1104.78L1203.59 1104.99L1205.08 1104.99L1206.57 1104.58L1208.06 1100.63L1209.55 1104.85L1211.04 1102.38L1212.53 1068.08L1214.02 1104.57L1215.51 1104.65L1217.01 1098.86L1218.5 1104.34L1219.99 1100.04L1221.48 1104.54L1222.97 1104.36L1224.46 1104.6L1225.95 1104.78L1227.44 1104.83L1228.93 1104.97L1230.42 1104.75L1231.91 1104.84L1233.4 1102.66L1234.89 1086.28L1236.38 1104.37L1237.87 1104.35L1239.36 1104.47L1240.85 1104.61L1242.34 1100.04L1243.83 1104.97L1245.32 1103.62L1246.81 1104.89L1248.3 1104.98L1249.79 1104.6L1251.28 1101.52L1252.77 1104.38L1254.26 1104.65L1255.75 1094.42L1257.24 1104.76L1258.73 1104.57L1260.22 1104.81L1261.71 1104.81L1263.2 1104.84L1264.69 1104.9L1266.18 1104.74L1267.67 1102.18L1269.16 1104.35L1270.65 1104.92L1272.14 1099.6L1273.63 1103.84L1275.12 1102.96L1276.61 1104.36L1278.1 1104.66L1279.59 1102.24L1281.08 1101.08L1282.57 1104.36L1284.06 1099.6L1285.55 1102.53L1287.04 1104.59L1288.53 1104.87L1290.02 1104.65L1291.51 1104.71L1293 1104.9L1294.49 1104.7L1295.98 1104.62L1297.47 1093.23L1298.96 1104.49L1300.45 1098.12L1301.94 1104.35L1303.43 1102.21L1304.92 1104.93L1306.41 1102.09L1307.9 1071.48L1309.39 1104.76L1310.88 1100.34L1312.37 1104.55L1313.86 1104.61L1315.35 1104.99L1316.84 1093.97L1318.33 1104.51L1319.82 1104.84L1321.31 1099.6L1322.8 1101.76L1324.3 1103.92L1325.79 1104.82L1327.28 1104.59L1328.77 1100.63L1330.26 1104.64L1331.75 1104.94L1333.24 1104.64L1334.73 1104.76L1336.22 1104.86L1337.71 1104.81L1339.2 1104.51L1340.69 1100.34L1342.18 1103.83L1343.67 1104.47L1345.16 1104.5L1346.65 1104.72L1348.14 1096.19L1349.63 1104.47L1351.12 1104.57L1352.61 1103.22L1354.1 1104.51L1355.59 1102.96L1357.08 1104.94L1358.57 1103.82L1360.06 1103.36L1361.55 1104.63L1363.04 1104.55L1364.53 1104.49L1366.02 1104.86L1367.51 1098.86L1369 1104.95L1370.49 1104.52L1371.98 1104.81L1373.47 1104.77L1374.96 1100.34L1376.45 1104.76L1377.94 1104.53L1379.43 1104.4L1380.92 1101.77L1382.41 1101.52L1383.9 1031.97L1385.39 1104.47L1386.88 1104.79L1388.37 1104.39L1389.86 1100.04L1391.35 1103.41L1392.84 1104.76L1394.33 1104.74L1395.82 1099.15L1397.31 1104.87L1398.8 1098.12L1400.29 1104.48L1401.78 1098.12L1403.27 1104.45L1404.76 1104.79L1406.25 1104.88L1407.74 1104.42L1409.23 1104.99L1410.72 1104.64L1412.21 1104.37L1413.7 1104.47L1415.19 1104.64L1416.68 1097.08L1418.17 1104.94L1419.66 1104.52L1421.15 1103.81L1422.64 1104.91L1424.13 1101.52L1425.62 1104.57L1427.11 1104.74L1428.6 1078.14L1430.09 1104.86L1431.59 1104.66L1433.08 1104.74L1434.57 1104.36L1436.06 1104.68L1437.55 1104.53L1439.04 1104.4L1440.53 1081.54L1442.02 1104.46L1443.51 1104.44L1445 1101.96L1446.49 1098.12L1447.98 1101.66L1449.47 1104.8L1450.96 1104.66L1452.45 1101.08L1453.94 1104.47L1455.43 1104.72L1456.92 1104.51L1458.41 1100.04L1459.9 1103.09L1461.39 1104.87L1462.88 1104.81L1464.37 1103.87L1465.86 1051.5L1467.35 1104.92L1468.84 1104.49L1470.33 1104.96L1471.82 1103.36L1473.31 1104.62L1474.8 1099.6L1476.29 1103.93L1477.78 1104.88L1479.27 1104.85L1480.76 1104.61L1482.25 1101.08L1483.74 1104.88L1485.23 1104.89L1486.72 1104.8L1488.21 1100.78L1489.7 1104.46L1491.19 1104.83L1492.68 1101.77L1494.17 1104.81L1495.66 1100.34L1497.15 1104.64L1498.64 1102.83L1500.13 1085.54L1501.62 1104.97L1503.11 1102.04L1504.6 1104.65L1506.09 1104.82L1507.58 1102.4L1509.07 1104.99L1510.56 1101.52L1512.05 1104.76L1513.54 1104.53L1515.03 1104.9L1516.52 1100.79L1518.01 1104.79L1519.5 1104.43L1520.99 1104.58L1522.48 1103.36L1523.97 1104.9L1525.46 1105L1526.95 1101.93L1528.44 1095.6L1529.93 1103.81L1531.42 1094.12L1532.91 1104.53L1534.4 1104.69L1535.89 1098.86L1537.38 1104.37L1538.88 1104.59L1540.37 1104.44L1541.86 1104.48L1543.35 1104.4L1544.84 1104.46L1546.33 1096.19L1547.82 1104.64L1549.31 1101.08L1550.8 1104.9L1552.29 1103.25L1553.78 1104.95L1555.27 1097.38L1556.76 1104.69L1558.25 1104.76L1559.74 1104.93L1561.23 1104.59L1562.72 1104.7L1564.21 1101.97L1565.7 1104.99L1567.19 1104.53L1568.68 1104.63L1570.17 1101.82L1571.66 1104.99L1573.15 1102.05L1574.64 1104.6L1576.13 1104.75L1577.62 1104.8L1579.11 1104.74L1580.6 1104.83L1582.09 1104.52L1583.58 1104.66L1585.07 1104.38L1586.56 1104.53L1588.05 1104.46L1589.54 1104.91L1591.03 1104.56L1592.52 1101.52L1594.01 1104.88L1595.5 1100.34L1596.99 1104.45L1598.48 1104.94L1599.97 1104.9L1601.46 1104.73L1602.95 1104.4L1604.44 1096.19L1605.93 1104.71L1607.42 1104.66L1608.91 1104.5L1610.4 1101.52L1611.89 1103.07L1613.38 1099.15L1614.87 1104.73L1616.36 1104.74L1617.85 1104.36L1619.34 1104.57L1620.83 1104.99L1622.32 1104.78L1623.81 1104.93L1625.3 1071.04L1626.79 1104.67L1628.28 1104.87L1629.77 1104.46L1631.26 1053.72L1632.75 1104.9L1634.24 1104.41L1635.73 1100.04L1637.22 1104.77L1638.71 1104.91L1640.2 1101.52L1641.69 1104.35L1643.18 1101.08L1644.67 1104.53L1646.16 1103.53L1647.66 1102.47L1649.15 1104.95L1650.64 1104.91L1652.13 1104.62L1653.62 1101.08L1655.11 1104.78L1656.6 1103.13L1658.09 1101.52L1659.58 1104.92L1661.07 1103.68L1662.56 1102.68L1664.05 1104.63L1665.54 1104.4L1667.03 1102L1668.52 1101.08L1670.01 1104.92L1671.5 1103.31L1672.99 1102.87L1674.48 1103.42L1675.97 1099.89L1677.46 1104.46L1678.95 1099.6L1680.44 1104.64L1681.93 1104.98L1683.42 1104.35L1684.91 1102.4L1686.4 1104.56L1687.89 1104.75L1689.38 1104.47L1690.87 1104.87L1692.36 1098.86L1693.85 1104.91L1695.34 1100.34L1696.83 1104.63L1698.32 1098.56L1699.81 1104.66L1701.3 1104.63L1702.79 1100.04L1704.28 1104.58L1705.77 1104.56L1707.26 1104.37L1708.75 1104.69L1710.24 1099.6L1711.73 1104.59L1713.22 1092.64L1714.71 1104.5L1716.2 1104.68L1717.69 1104.69L1719.18 1101.95L1720.67 1103.01L1722.16 1101.82L1723.65 1104.63L1725.14 1102.72L1726.63 1104.72L1728.12 1102.85L1729.61 1103.23L1731.1 1104.52L1732.59 1102.22L1734.08 1104.51L1735.57 1104.61L1737.06 1104.92L1738.55 1104.67L1740.04 1099.16L1741.53 1104.97L1743.02 1104.65L1744.51 1104.8L1746 1104.85L1747.49 1099.15L1748.98 1104.4L1750.47 1102.38L1751.96 1102.98L1753.45 1069.7L1754.95 1103.47L1756.44 1104.63L1757.93 1103.77L1759.42 1090.72L1760.91 1104.92L1762.4 1104.65L1763.89 1104.38L1765.38 1090.27L1766.87 1104.84L1768.36 1104.79L1769.85 1104.41L1771.34 1103.04L1772.83 1104.62L1774.32 1089.98L1775.81 1104.98L1777.3 1103.26L1778.79 1104.39L1780.28 1101.82L1781.77 1102.85L1783.26 1104.81L1784.75 1104.84L1786.24 1101.81L1787.73 1104.45L1789.22 1095.6L1790.71 1104.69L1792.2 1104.42L1793.69 1099.15L1795.18 1103.52L1796.67 1104.87L1798.16 1103.89L1799.65 1104.52L1801.14 1104.41L1802.63 1102.26L1804.12 1104.54L1805.61 1102.92L1807.1 1104.61" fill="none" stroke="#007f87" stroke-width="2" stroke-linejoin="bevel"/><circle cx="734.2" cy="1104.81" r="2" fill="#f2f2f2" stroke="#007f87" stroke-width="2"/><circle cx="756.55" cy="1104.77" r="2" fill="#f2f2f2" stroke="#007f87" stroke-width="2"/><circle cx="778.9" cy="1104.62" r="2" fill="#f2f2f2" stroke="#007f87" stroke-width="2"/><circle cx="801.26" cy="1101.56" r="2" fill="#f2f2f2" stroke="#007f87" stroke-width="2"/><circle cx="823.61" cy="1104.79" r="2" fill="#f2f2f2" stroke="#007f87" stroke-width="2"/><circle cx="845.96" cy="1104.76" r="2" fill="#f2f2f2" stroke="#007f87" stroke-width="2"/><circle cx="868.31" cy="1104.92" r="2" fill="#f2f2f2" stroke="#007f87" stroke-width="2"/><circle cx="890.66" cy="1089.24" r="2" fill="#f2f2f2" stroke="#007f87" stroke-width="2"/><circle cx="913.02" cy="1104.74" r="2" fill="#f2f2f2" stroke="#007f87" stroke-width="2"/><circle cx="935.37" cy="1104.67" r="2" fill="#f2f2f2" stroke="#007f87" stroke-width="2"/><circle cx="957.72" cy="1104.96" r="2" fill="#f2f2f2" stroke="#007f87" stroke-width="2"/><circle cx="980.07" cy="1104.88" r="2" fill="#f2f2f2" stroke="#007f87" stroke-width="2"/><circle cx="1002.43" cy="1104.96" r="2" fill="#f2f2f2" stroke="#007f87" stroke-width="2"/><circle cx="1024.78" cy="1104.67" r="2" fill="#f2f2f2" stroke="#007f87" stroke-width="2"/><circle cx="1047.13" cy="1104.72" r="2" fill="#f2f2f2" stroke="#007f87" stroke-width="2"/><circle cx="1069.48" cy="1104.98" r="2" fill="#f2f2f2" stroke="#007f87" stroke-width="2"/><circle cx="1091.83" cy="1104.6" r="2" fill="#f2f2f2" stroke="#007f87" stroke-width="2"/><circle cx="1114.19" cy="1104.6" r="2" fill="#f2f2f2" stroke="#007f87" stroke-width="2"/><circle cx="1136.54" cy="1104.73" r="2" fill="#f2f2f2" stroke="#007f87" stroke-width="2"/><circle cx="1158.89" cy="1104.75" r="2" fill="#f2f2f2" stroke="#007f87" stroke-width="2"/><circle cx="1181.24" cy="1070" r="2" fill="#f2f2f2" stroke="#007f87" stroke-width="2"/><circle cx="1203.59" cy="1104.99" r="2" fill="#f2f2f2" stroke="#007f87" stroke-width="2"/><circle cx="1225.95" cy="1104.78" r="2" fill="#f2f2f2" stroke="#007f87" stroke-width="2"/><circle cx="1248.3" cy="1104.98" r="2" fill="#f2f2f2" stroke="#007f87" stroke-width="2"/><circle cx="1270.65" cy="1104.92" r="2" fill="#f2f2f2" stroke="#007f87" stroke-width="2"/><circle cx="1293" cy="1104.9" r="2" fill="#f2f2f2" stroke="#007f87" stroke-width="2"/><circle cx="1315.35" cy="1104.99" r="2" fill="#f2f2f2" stroke="#007f87" stroke-width="2"/><circle cx="1337.71" cy="1104.81" r="2" fill="#f2f2f2" stroke="#007f87" stroke-width="2"/><circle cx="1360.06" cy="1103.36" r="2" fill="#f2f2f2" stroke="#007f87" stroke-width="2"/><circle cx="1382.41" cy="1101.52" r="2" fill="#f2f2f2" stroke="#007f87" stroke-width="2"/><circle cx="1404.76" cy="1104.79" r="2" fill="#f2f2f2" stroke="#007f87" stroke-width="2"/><circle cx="1427.11" cy="1104.74" r="2" fill="#f2f2f2" stroke="#007f87" stroke-width="2"/><circle cx="1449.47" cy="1104.8" r="2" fill="#f2f2f2" stroke="#007f87" stroke-width="2"/><circle cx="1471.82" cy="1103.36" r="2" fill="#f2f2f2" stroke="#007f87" stroke-width="2"/><circle cx="1494.17" cy="1104.81" r="2" fill="#f2f2f2" stroke="#007f87" stroke-width="2"/><circle cx="1516.52" cy="1100.79" r="2" fill="#f2f2f2" stroke="#007f87" stroke-width="2"/><circle cx="1538.88" cy="1104.59" r="2" fill="#f2f2f2" stroke="#007f87" stroke-width="2"/><circle cx="1561.23" cy="1104.59" r="2" fill="#f2f2f2" stroke="#007f87" stroke-width="2"/><circle cx="1583.58" cy="1104.66" r="2" fill="#f2f2f2" stroke="#007f87" stroke-width="2"/><circle cx="1605.93" cy="1104.71" r="2" fill="#f2f2f2" stroke="#007f87" stroke-width="2"/><circle cx="1628.28" cy="1104.87" r="2" fill="#f2f2f2" stroke="#007f87" stroke-width="2"/><circle cx="1650.64" cy="1104.91" r="2" fill="#f2f2f2" stroke="#007f87" stroke-width="2"/><circle cx="1672.99" cy="1102.87" r="2" fill="#f2f2f2" stroke="#007f87" stroke-width="2"/><circle cx="1695.34" cy="1100.34" r="2" fill="#f2f2f2" stroke="#007f87" stroke-width="2"/><circle cx="1717.69" cy="1104.69" r="2" fill="#f2f2f2" stroke="#007f87" stroke-width="2"/><circle cx="1740.04" cy="1099.16" r="2" fill="#f2f2f2" stroke="#007f87" stroke-width="2"/><circle cx="1762.4" cy="1104.65" r="2" fill="#f2f2f2" stroke="#007f87" stroke-width="2"/><circle cx="1784.75" cy="1104.84" r="2" fill="#f2f2f2" stroke="#007f87" stroke-width="2"/><circle cx="1807.1" cy="1104.61" r="2" fill="#f2f2f2" stroke="#007f87" stroke-width="2"/><text x="1823.4" y="1108.6" font-size="12" fill="#6E7079" textLength="27" lengthAdjust="spacingAndGlyphs">Time</text>
<rect x="230.2" y="69.3" width="1649.4" height="231.7" rx="3" fill="none" stroke="#ff1509" stroke-width="3.6"/><rect x="232.2" y="311" width="401.7" height="191.6" rx="3" fill="none" stroke="#ff1509" stroke-width="3.6"/><rect x="232.2" y="511.7" width="402.5" height="190.1" rx="3" fill="none" stroke="#ff1509" stroke-width="3.6"/><rect x="645.1" y="311" width="1236.1" height="392.6" rx="3" fill="none" stroke="#ff1509" stroke-width="3.6"/><rect x="230" y="717.5" width="405" height="484.1" rx="3" fill="none" stroke="#ff1509" stroke-width="3.6"/><rect x="648" y="715.1" width="1232" height="238.2" rx="3" fill="none" stroke="#ff1509" stroke-width="3.6"/><rect x="645" y="960.7" width="1234.4" height="241.3" rx="3" fill="none" stroke="#ff1509" stroke-width="3.6"/><text transform="translate(1597.7 209) scale(1.16 1)" font-family="'NanumGothic','Noto Sans CJK SC',sans-serif" font-size="52" font-weight="400" fill="#ff1509" stroke="#ff1509" stroke-width="0.7">1</text><text x="238.7" y="419" font-size="53" font-weight="400" fill="#ff1509" stroke="#ff1509" stroke-width="0.4">2</text><text x="241.8" y="630.8" font-size="53" font-weight="400" fill="#ff1509" stroke="#ff1509" stroke-width="0.4">3</text><text x="1696.7" y="542" font-size="53" font-weight="400" fill="#ff1509" stroke="#ff1509" stroke-width="0.4">4</text><text x="288.1" y="807.7" font-size="53" font-weight="400" fill="#ff1509" stroke="#ff1509" stroke-width="0.4">5</text><text x="1668" y="788" font-size="53" font-weight="400" fill="#ff1509" stroke="#ff1509" stroke-width="0.4">6</text><text x="1650.6" y="1042" font-size="53" font-weight="400" fill="#ff1509" stroke="#ff1509" stroke-width="0.4">7</text></svg>
</body></html>
